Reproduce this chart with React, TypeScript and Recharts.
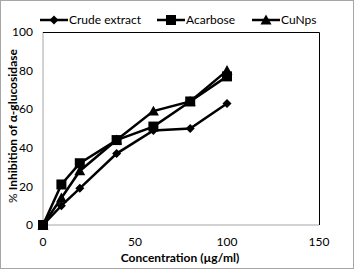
import React from 'react'
import { LineChart, Line, XAxis, YAxis } from 'recharts'

const concentrations = [0, 10, 20, 40, 60, 80, 100]
const crudeExtract = [0, 10, 19, 37, 49, 50, 63]
const acarbose = [0, 21, 32, 44, 51, 64, 77]
const cuNps = [0, 14, 28, 44, 59, 64, 80]

const xTicks = [0, 50, 100, 150]
const yTicks = [0, 20, 40, 60, 80, 100]

const seriesNames = ['Crude extract', 'Acarbose', 'CuNps']
const seriesKeys = ['crude', 'acarbose', 'cunps']

const data = concentrations.map((c, i) => ({
  conc: c,
  crude: crudeExtract[i],
  acarbose: acarbose[i],
  cunps: cuNps[i]
}))

const FONT = 'Lato, "Open Sans", sans-serif'

const Marker = ({ kind, cx, cy }: { kind: string; cx: number; cy: number }) => {
  if (kind === 'crude') {
    const r = 4.5
    return <polygon points={`${cx},${cy - r} ${cx + r},${cy} ${cx},${cy + r} ${cx - r},${cy}`} fill="#000" />
  }
  if (kind === 'acarbose') {
    const s = 5
    return <rect x={cx - s} y={cy - s} width={s * 2} height={s * 2} fill="#000" />
  }
  const r = 5.5
  return <polygon points={`${cx},${cy - r} ${cx + r},${cy + r * 0.8} ${cx - r},${cy + r * 0.8}`} fill="#000" />
}

const dotFor = (kind: string) => (props: any) => {
  const { cx, cy, index } = props
  if (cx == null || cy == null) return <g key={index} />
  return <Marker key={`${kind}-${index}`} kind={kind} cx={cx} cy={cy} />
}

const legendX = [40, 157, 252]

const App: React.FC = () => {
  return (
    <div style={{ position: 'relative', width: 354, height: 269, background: '#fff' }}>
      <style>{'body{margin:0}'}</style>
      <div
        style={{
          position: 'absolute',
          left: 0,
          top: 0,
          width: 352,
          height: 267,
          border: '1px solid #a6a6a6'
        }}
      />
      <LineChart
        width={354}
        height={269}
        data={data}
        margin={{ top: 32, right: 35, bottom: 0, left: 0 }}
        style={{ position: 'absolute', left: 0, top: 0 }}
      >
        <XAxis
          dataKey="conc"
          type="number"
          domain={[0, 150]}
          ticks={xTicks}
          height={44}
          stroke="#a6a6a6"
          tickLine={false}
          tick={{ fill: '#000', fontSize: 12, fontFamily: FONT }}
          tickMargin={6}
        />
        <YAxis
          type="number"
          domain={[0, 100]}
          ticks={yTicks}
          width={43}
          stroke="#a6a6a6"
          tickLine={false}
          tick={{ fill: '#000', fontSize: 12, fontFamily: FONT }}
          tickMargin={4}
        />
        {seriesKeys.map((k) => (
          <Line
            key={k}
            dataKey={k}
            stroke="#000"
            strokeWidth={2.5}
            type="linear"
            dot={dotFor(k)}
            activeDot={false}
            isAnimationActive={false}
          />
        ))}
      </LineChart>
      <svg
        width={354}
        height={269}
        style={{ position: 'absolute', left: 0, top: 0, pointerEvents: 'none' }}
      >
        <path d="M43,32.5 H319.5 V225" fill="none" stroke="#000" strokeWidth={1} />
        {seriesNames.map((name, i) => (
          <g key={name}>
            <line x1={legendX[i]} y1={20} x2={legendX[i] + 28} y2={20} stroke="#000" strokeWidth={2.5} />
            <Marker kind={seriesKeys[i]} cx={legendX[i] + 14} cy={20} />
            <text x={legendX[i] + 29} y={24} fontSize={12} fontFamily={FONT} fill="#000">
              {name}
            </text>
          </g>
        ))}
        <text
          x={180}
          y={262}
          textAnchor="middle"
          fontSize={12}
          fontWeight="bold"
          fontFamily={FONT}
          fill="#000"
        >
          Concentration (µg/ml)
        </text>
        <text
          x={0}
          y={0}
          transform="translate(17,126) rotate(-90)"
          textAnchor="middle"
          fontSize={12}
          fontFamily={FONT}
          fill="#000"
        >
          <tspan>% </tspan>
          <tspan fontWeight="bold">Inhibition of α-glucosidase</tspan>
        </text>
      </svg>
    </div>
  )
}

export default App
